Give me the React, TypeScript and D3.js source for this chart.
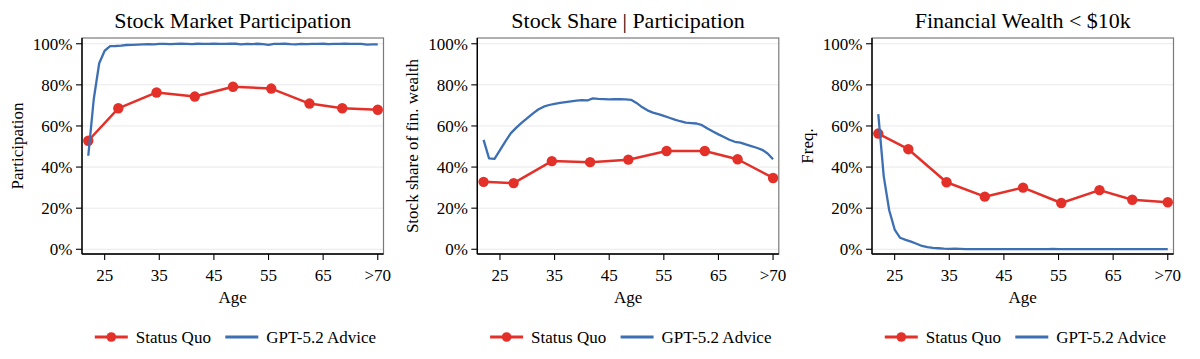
import React from "react";
import * as d3 from "d3";

const titles = ["Stock Market Participation", "Stock Share | Participation", "Financial Wealth < $10k"];
const yLabels = ["Participation", "Stock share of fin. wealth", "Freq."];
const seriesNames = ["Status Quo", "GPT-5.2 Advice"];

const yTicks = [0, 20, 40, 60, 80, 100];
const xTickValues = [25, 35, 45, 55, 65, 75];
const xTickLabels = ["25", "35", "45", "55", "65", ">70"];

// Status Quo (binned ages)
const sqAges = [22, 27.5, 34.5, 41.5, 48.5, 55.5, 62.5, 68.5, 75];
const sqParticipation = [52.8, 68.6, 76.3, 74.3, 79.1, 78.2, 70.9, 68.6, 67.9];
const sqStockShare = [32.8, 32.2, 42.9, 42.4, 43.6, 47.8, 47.8, 43.8, 34.7];
const sqLowWealth = [56.3, 48.7, 32.6, 25.6, 30.0, 22.5, 28.8, 24.1, 22.9];

// GPT-5.2 Advice (yearly ages 22..75)
const gptAges = [
  22, 23, 24, 25, 26, 27, 28, 29, 30, 31, 32, 33, 34, 35, 36, 37, 38, 39, 40, 41, 42, 43, 44, 45, 46, 47,
  48, 49, 50, 51, 52, 53, 54, 55, 56, 57, 58, 59, 60, 61, 62, 63, 64, 65, 66, 67, 68, 69, 70, 71, 72, 73,
  74, 75,
];
const gptParticipation = [
  45.5, 73.0, 90.5, 96.6, 98.8, 98.9, 99.1, 99.4, 99.5, 99.6, 99.7, 99.8, 99.7, 99.9, 99.9, 99.8, 99.9,
  100.0, 99.9, 99.8, 100.0, 99.9, 99.9, 100.0, 99.9, 99.9, 100.0, 100.0, 99.7, 99.9, 99.8, 100.0, 99.8,
  99.5, 99.9, 99.9, 100.0, 99.8, 99.7, 99.9, 99.8, 99.9, 99.9, 100.0, 99.8, 99.9, 99.9, 100.0, 99.9, 99.9,
  99.9, 99.6, 99.7, 99.7,
];
const gptStockShare = [
  53.2, 44.2, 44.0, 48.2, 52.5, 56.5, 59.2, 61.6, 63.8, 66.0, 68.0, 69.4, 70.2, 70.8, 71.2, 71.6, 72.0,
  72.3, 72.6, 72.4, 73.4, 73.2, 73.1, 72.9, 73.0, 73.1, 72.9, 72.7, 71.2, 69.2, 67.6, 66.5, 65.8, 64.9,
  64.0, 63.1, 62.3, 61.6, 61.4, 61.2, 60.4, 58.8, 57.3, 55.9, 54.6, 53.3, 52.3, 51.9, 51.0, 50.2, 49.4,
  48.4, 46.6, 43.8,
];
const gptLowWealth = [
  65.8, 35.5, 19.0, 9.6, 5.6, 4.6, 3.7, 2.7, 1.6, 1.0, 0.7, 0.5, 0.3, 0.2, 0.3, 0.2, 0.1, 0.1, 0.1, 0.1,
  0.1, 0.1, 0.1, 0.1, 0.1, 0.1, 0.1, 0.1, 0.1, 0.1, 0.1, 0.1, 0.2, 0.1, 0.1, 0.1, 0.1, 0.1, 0.1, 0.1, 0.1,
  0.1, 0.1, 0.1, 0.1, 0.1, 0.1, 0.1, 0.1, 0.1, 0.1, 0.1, 0.1, 0.1,
];

const sqSeries = [sqParticipation, sqStockShare, sqLowWealth];
const gptSeries = [gptParticipation, gptStockShare, gptLowWealth];

const RED = "#e3312a";
const BLUE = "#3d6fb3";
const FONT = "'Liberation Serif', 'Times New Roman', serif";

const W = 1200;
const H = 359;
const panelLefts = [82, 477.3, 872];
const panelWidth = 301.5;
const top = 38;
const bottom = 254;

function Panel({ idx }: { idx: number }) {
  const left = panelLefts[idx];
  const right = left + panelWidth;
  const x = d3.scaleLinear().domain([20.85, 76.05]).range([left, right]);
  const y = d3.scaleLinear().domain([-2.3, 102.8]).range([bottom, top]);
  const line = d3
    .line<[number, number]>()
    .x((d) => x(d[0]))
    .y((d) => y(d[1]));
  const sqPts: [number, number][] = sqAges.map((a, i) => [a, sqSeries[idx][i]]);
  const gptPts: [number, number][] = gptAges.map((a, i) => [a, gptSeries[idx][i]]);
  const cx = (left + right) / 2;
  const midY = (top + bottom) / 2;

  // legend layout
  const legStart = cx - 141.75 + 3.8;
  const lineLen = 33;

  return (
    <g>
      <text x={cx} y={27.5} textAnchor="middle" fontSize={22} fontFamily={FONT} fill="#000">
        {titles[idx]}
      </text>
      {yTicks.map((t) => (
        <line key={"g" + t} x1={left} x2={right} y1={y(t)} y2={y(t)} stroke="#e9e9e9" strokeWidth={1} />
      ))}
      <rect x={left} y={top} width={panelWidth} height={bottom - top} fill="none" stroke="#7a7a7a" strokeWidth={1.2} />
      <line x1={left} x2={left} y1={top} y2={bottom} stroke="#000" strokeWidth={1.4} />
      <line x1={left} x2={right} y1={bottom} y2={bottom} stroke="#000" strokeWidth={1.4} />
      {yTicks.map((t) => (
        <g key={"y" + t}>
          <line x1={left - 6} x2={left} y1={y(t)} y2={y(t)} stroke="#000" strokeWidth={1.1} />
          <text
            x={left - 9.5}
            y={y(t)}
            dy="0.34em"
            textAnchor="end"
            fontSize={17}
            fontFamily={FONT}
            fill="#000"
          >
            {t + "%"}
          </text>
        </g>
      ))}
      {xTickValues.map((t, i) => (
        <g key={"x" + t}>
          <line x1={x(t)} x2={x(t)} y1={bottom} y2={bottom + 6} stroke="#000" strokeWidth={1.1} />
          <text x={x(t)} y={280.5} textAnchor="middle" fontSize={17} fontFamily={FONT} fill="#000">
            {xTickLabels[i]}
          </text>
        </g>
      ))}
      <text x={cx} y={303} textAnchor="middle" fontSize={17} fontFamily={FONT} fill="#000">
        Age
      </text>
      <text
        transform={`translate(${left - 59},${midY}) rotate(-90)`}
        textAnchor="middle"
        fontSize={17}
        fontFamily={FONT}
        fill="#000"
      >
        {yLabels[idx]}
      </text>
      <path d={line(sqPts) || ""} fill="none" stroke={RED} strokeWidth={2.5} strokeLinejoin="round" />
      {sqPts.map((p, i) => (
        <circle key={"c" + i} cx={x(p[0])} cy={y(p[1])} r={5.2} fill={RED} />
      ))}
      <path d={line(gptPts) || ""} fill="none" stroke={BLUE} strokeWidth={2.3} strokeLinejoin="round" />
      {/* legend */}
      <line x1={legStart} x2={legStart + lineLen} y1={337} y2={337} stroke={RED} strokeWidth={3} />
      <circle cx={legStart + lineLen / 2} cy={337} r={4.8} fill={RED} />
      <text x={legStart + lineLen + 8} y={343} fontSize={17} fontFamily={FONT} fill="#000">
        {seriesNames[0]}
      </text>
      <line
        x1={legStart + 130.5}
        x2={legStart + 130.5 + lineLen}
        y1={337}
        y2={337}
        stroke={BLUE}
        strokeWidth={3}
      />
      <text x={legStart + 130.5 + lineLen + 8} y={343} fontSize={17} fontFamily={FONT} fill="#000">
        {seriesNames[1]}
      </text>
    </g>
  );
}

export default function App() {
  return (
    <svg width={W} height={H} style={{ display: "block", position: "absolute", left: 0, top: 0, background: "#fff" }}>
      <rect x={0} y={0} width={W} height={H} fill="#fff" />
      {[0, 1, 2].map((i) => (
        <Panel key={i} idx={i} />
      ))}
    </svg>
  );
}
